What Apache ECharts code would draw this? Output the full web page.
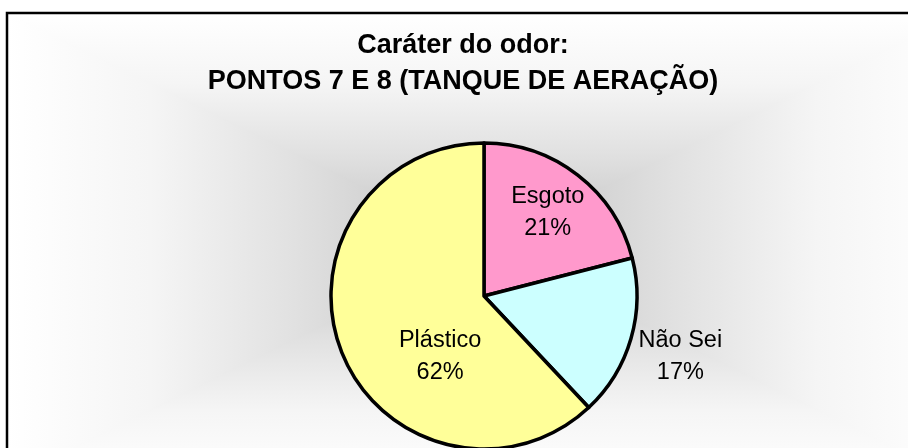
<!DOCTYPE html>
<html>
<head>
<meta charset="utf-8">
<script src="https://cdn.jsdelivr.net/npm/echarts@6/dist/echarts.min.js"></script>
<style>
html, body { margin:0; padding:0; background:#fff; }
#chart { width:908px; height:448px; }
</style>
</head>
<body>
<div id="chart"></div>
<script>
// dados do gráfico
var categorias = ['Esgoto', 'Não Sei', 'Plástico'];
var valores = [21, 17, 62];
var cores = ['#FF99CC', '#CCFFFF', '#FFFF99'];
// deslocamento dos rótulos (estilo, igual ao Excel)
var desloc = [[15, -21], [120, 38], [30, 31]];

var dom = document.getElementById("chart");
var myChart = echarts.init(dom, null, {renderer: 'canvas'});

// fundo: gradiente retangular "do centro"
var fx0 = 8, fy0 = 14, fx1 = 960, fy1 = 480, fcx = 484, fcy = 246;
var paradas = [
	{offset: 0, color: '#ffffff'},
	{offset: 0.3, color: '#f5f5f5'},
	{offset: 0.6, color: '#e1e1e1'},
	{offset: 0.8, color: '#d1d1d1'},
	{offset: 1, color: '#cacaca'}
];
grad = function(x, y, x2, y2){
	return {type: 'linear', x: x, y: y, x2: x2, y2: y2, colorStops: paradas};
}
tri = function(pts, g){
	return {type: 'polygon', z: -10, shape: {points: pts}, style: {fill: g, stroke: g, lineWidth: 1.5}};
}

var dados = [];
for(i=0;i<categorias.length;i++)
{
	dados.push({name: categorias[i], value: valores[i], itemStyle: {color: cores[i]}});
}

option = {
	animation: false,
	graphic: [
		tri([[fx0,fy0],[fx1,fy0],[fcx,fcy]], grad(0,0,0,1)),
		tri([[fx0,fy1],[fx1,fy1],[fcx,fcy]], grad(0,1,0,0)),
		tri([[fx0,fy0],[fx0,fy1],[fcx,fcy]], grad(0,0,1,0)),
		tri([[fx1,fy0],[fx1,fy1],[fcx,fcy]], grad(1,0,0,0)),
		{type: 'rect', z: -5, shape: {x: 7, y: 13, width: 1000, height: 1000}, style: {fill: 'none', stroke: '#000', lineWidth: 2.5}}
	],
	title: {
		text: 'Caráter do odor:\nPONTOS 7 E 8 (TANQUE DE AERAÇÃO)',
		left: 458,
		top: 23,
		textAlign: 'center',
		textStyle: {
			fontFamily: 'Liberation Sans, Arial, sans-serif',
			fontWeight: 'bold',
			fontSize: 27,
			lineHeight: 36,
			color: '#000'
		}
	},
	series: [{
		type: 'pie',
		center: [484, 296],
		radius: 153,
		startAngle: 90,
		clockwise: true,
		avoidLabelOverlap: false,
		itemStyle: {borderColor: '#000', borderWidth: 3.5},
		label: {
			show: true,
			position: 'inside',
			formatter: '{b}\n{d}%',
			fontFamily: 'Liberation Sans, Arial, sans-serif',
			fontSize: 23.5,
			lineHeight: 32,
			color: '#000',
			align: 'center'
		},
		labelLine: {show: false},
		emphasis: {disabled: true},
		labelLayout: function(params){
			var d = desloc[params.dataIndex];
			return {dx: d[0], dy: d[1]};
		},
		data: dados
	}]
};
myChart.setOption(option, true);
</script>
</body>
</html>
